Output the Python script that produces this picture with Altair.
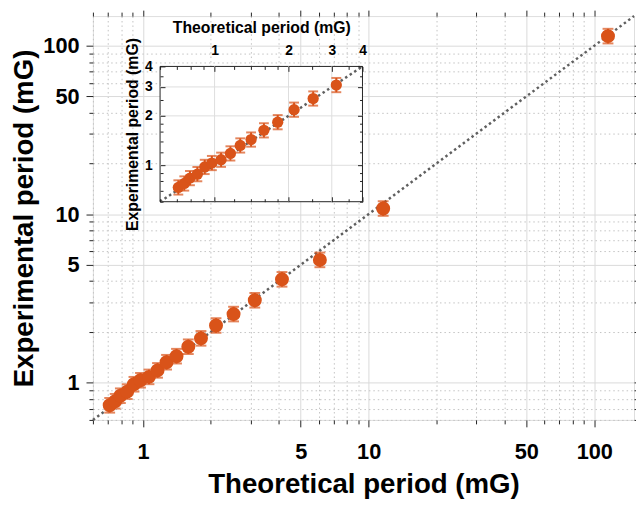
import altair as alt
import pandas as pd

# ---------------- data ----------------
theoretical = [0.712, 0.753, 0.794, 0.851, 0.912, 0.975, 1.063, 1.16, 1.272, 1.408,
               1.588, 1.807, 2.107, 2.52, 3.13, 4.13, 6.08, 11.6, 115]
experimental = [0.733, 0.775, 0.835, 0.883, 0.977, 1.032, 1.081, 1.181, 1.32, 1.434,
                1.632, 1.83, 2.18, 2.55, 3.08, 4.10, 5.35, 10.8, 114]
err_low = [0.663, 0.701, 0.756, 0.799, 0.884, 0.934, 0.978, 1.069, 1.195, 1.298,
           1.477, 1.656, 1.973, 2.308, 2.787, 3.711, 4.842, 9.774, 103.2]
err_high = [0.810, 0.856, 0.923, 0.976, 1.080, 1.140, 1.194, 1.305, 1.459, 1.585,
            1.803, 2.022, 2.409, 2.818, 3.403, 4.531, 5.912, 11.93, 126.0]

main_domain = [0.6, 150]
inset_domain = [0.6, 4]
main_major = [1, 5, 10, 50, 100]
main_ticks = [0.6, 0.7, 0.8, 0.9, 1, 2, 3, 4, 5, 6, 7, 8, 9, 10,
              20, 30, 40, 50, 60, 70, 80, 90, 100]
inset_major = [1, 2, 3, 4]
inset_ticks = [0.6, 0.7, 0.8, 0.9, 1, 1.2, 1.4, 1.6, 1.8, 2, 2.5, 3, 3.5, 4]
inset_grid = [1, 2, 3]

# ---------------- style ----------------
ORANGE = "#D95319"
FONT = "Liberation Sans"
W, H = 548, 409
INSET_X = [68, 273]
INSET_Y = [188, 51]

df = pd.DataFrame({"theoretical": theoretical, "experimental": experimental,
                   "lo": err_low, "hi": err_high})
line_df = pd.DataFrame({"v": main_domain})
inset_line_df = pd.DataFrame({"v": inset_domain})
box_df = pd.DataFrame({"a": [inset_domain[0]], "b": [inset_domain[1]]})
grid_df = pd.DataFrame({"g": inset_grid, "a": [inset_domain[0]] * len(inset_grid),
                        "b": [inset_domain[1]] * len(inset_grid)})

xs = alt.Scale(type="log", domain=main_domain, nice=False)
ys = alt.Scale(type="log", domain=main_domain, nice=False)
xs_in = alt.Scale(type="log", domain=inset_domain, range=INSET_X, nice=False)
ys_in = alt.Scale(type="log", domain=inset_domain, range=INSET_Y, nice=False)

major_test = "indexof(%s, datum.value) >= 0" % str(main_major)
inset_test = "indexof(%s, datum.value) >= 0" % str(inset_major)


def main_axis(title, orient, pad, tpad):
    return alt.Axis(
        orient=orient, values=main_ticks, format="~g",
        labelExpr=f"{major_test} ? datum.label : ''",
        labelOverlap=False, labelFlush=False, labelBound=False,
        grid=True,
        gridColor={"condition": {"test": major_test, "value": "#d9d9d9"}, "value": "#c2c2c2"},
        gridDash={"condition": {"test": major_test, "value": []}, "value": [1.5, 3]},
        gridWidth=1,
        domain=False,
        tickColor="#222", tickWidth=1,
        tickSize={"condition": {"test": major_test, "value": 7}, "value": 4},
        labelFont=FONT, labelFontSize=22, labelFontWeight="bold", labelColor="black",
        labelPadding=pad,
        title=title, titleFont=FONT, titleFontSize=28, titleFontWeight="bold",
        titleColor="black", titlePadding=tpad,
    )


def mirror_axis(orient):
    return alt.Axis(
        orient=orient, values=main_ticks, labels=False, grid=False, domain=False,
        title=None, tickColor="#222", tickWidth=1,
        tickSize={"condition": {"test": major_test, "value": 6}, "value": 4},
    )


def inward_axis(orient, offset):
    return alt.Axis(
        orient=orient, offset=offset, values=inset_ticks, labels=False, grid=False,
        domain=False, title=None, tickColor="#222", tickWidth=1, zindex=1,
        tickSize={"condition": {"test": inset_test, "value": 5}, "value": 3},
    )


def inset_label_axis(orient, offset, title, pad, tpad):
    return alt.Axis(
        orient=orient, offset=offset, values=inset_major, format="~g",
        ticks=False, grid=False, domain=False, zindex=1,
        labelFont=FONT, labelFontSize=14, labelFontWeight="bold", labelColor="black",
        labelPadding=pad, labelOverlap=False, labelFlush=False,
        title=title, titleFont=FONT, titleFontSize=16, titleFontWeight="bold",
        titleColor="black", titlePadding=tpad,
    )


# ---------------- main panel ----------------
main_line = alt.Chart(line_df).mark_line(
    color="#5f5f5f", strokeDash=[2.5, 3], strokeWidth=2.5
).encode(
    x=alt.X("v:Q", scale=xs, axis=mirror_axis("top")),
    y=alt.Y("v:Q", scale=ys, axis=mirror_axis("right")),
)

main_err = alt.Chart(df).mark_rule(color=ORANGE, strokeWidth=2).encode(
    x=alt.X("theoretical:Q", scale=xs, axis=None),
    y=alt.Y("lo:Q", scale=ys, axis=None),
    y2="hi:Q",
)

main_caps = alt.Chart(df).transform_fold(["lo", "hi"], as_=["k", "cap"]).mark_tick(
    color=ORANGE, orient="horizontal", size=11, thickness=2
).encode(
    x=alt.X("theoretical:Q", scale=xs, axis=None),
    y=alt.Y("cap:Q", scale=ys, axis=None),
)

main_pts = alt.Chart(df).mark_circle(color=ORANGE, size=200, opacity=1).encode(
    x=alt.X("theoretical:Q", scale=xs,
            axis=main_axis("Theoretical period (mG)", "bottom", 15, 9)),
    y=alt.Y("experimental:Q", scale=ys,
            axis=main_axis("Experimental period (mG)", "left", 7, 4)),
)

# ---------------- inset panel ----------------
inset_box = alt.Chart(box_df).mark_rect(fill="white", stroke="#222", strokeWidth=1).encode(
    x=alt.X("a:Q", scale=xs_in,
            axis=inset_label_axis("top", -INSET_Y[1], "Theoretical period (mG)", 9, 8)),
    x2="b:Q",
    y=alt.Y("a:Q", scale=ys_in,
            axis=inset_label_axis("left", -INSET_X[0], "Experimental period (mG)", 8, 4)),
    y2="b:Q",
)

inset_vgrid = alt.Chart(grid_df).mark_rule(color="#dddddd", strokeWidth=1).encode(
    x=alt.X("g:Q", scale=xs_in, axis=None),
    y=alt.Y("a:Q", scale=ys_in, axis=None),
    y2="b:Q",
)
inset_hgrid = alt.Chart(grid_df).mark_rule(color="#dddddd", strokeWidth=1).encode(
    y=alt.Y("g:Q", scale=ys_in, axis=None),
    x=alt.X("a:Q", scale=xs_in, axis=None),
    x2="b:Q",
)

inset_line = alt.Chart(inset_line_df).mark_line(
    color="#5f5f5f", strokeDash=[2.5, 3], strokeWidth=2.5
).encode(
    x=alt.X("v:Q", scale=xs_in, axis=inward_axis("bottom", INSET_Y[1] - H)),
    y=alt.Y("v:Q", scale=ys_in, axis=inward_axis("right", INSET_X[0] - W)),
)

inset_flt = alt.datum.theoretical <= inset_domain[1]

inset_err = alt.Chart(df).transform_filter(inset_flt).mark_rule(
    color=ORANGE, strokeWidth=2
).encode(
    x=alt.X("theoretical:Q", scale=xs_in, axis=None),
    y=alt.Y("lo:Q", scale=ys_in, axis=None),
    y2="hi:Q",
)

inset_caps = alt.Chart(df).transform_filter(inset_flt).transform_fold(
    ["lo", "hi"], as_=["k", "cap"]
).mark_tick(color=ORANGE, orient="horizontal", size=10, thickness=2).encode(
    x=alt.X("theoretical:Q", scale=xs_in, axis=None),
    y=alt.Y("cap:Q", scale=ys_in, axis=None),
)

inset_pts = alt.Chart(df).transform_filter(inset_flt).mark_circle(
    color=ORANGE, size=130, opacity=1
).encode(
    x=alt.X("theoretical:Q", scale=xs_in, axis=inward_axis("top", -INSET_Y[0])),
    y=alt.Y("experimental:Q", scale=ys_in, axis=inward_axis("left", -INSET_X[1])),
)

chart = alt.layer(
    main_line, main_err, main_caps, main_pts,
    inset_box, inset_vgrid, inset_hgrid, inset_line, inset_err, inset_caps, inset_pts,
).resolve_scale(
    x="independent", y="independent"
).resolve_axis(
    x="independent", y="independent"
).properties(
    width=W, height=H,
    autosize=alt.AutoSizeParams(type="none"),
    padding={"left": 86, "top": 5, "right": 2, "bottom": 84},
).configure_view(
    stroke="#222", strokeWidth=1
).configure(background="white")

chart.save("out.html", embed_options={"renderer": "svg", "actions": False})
